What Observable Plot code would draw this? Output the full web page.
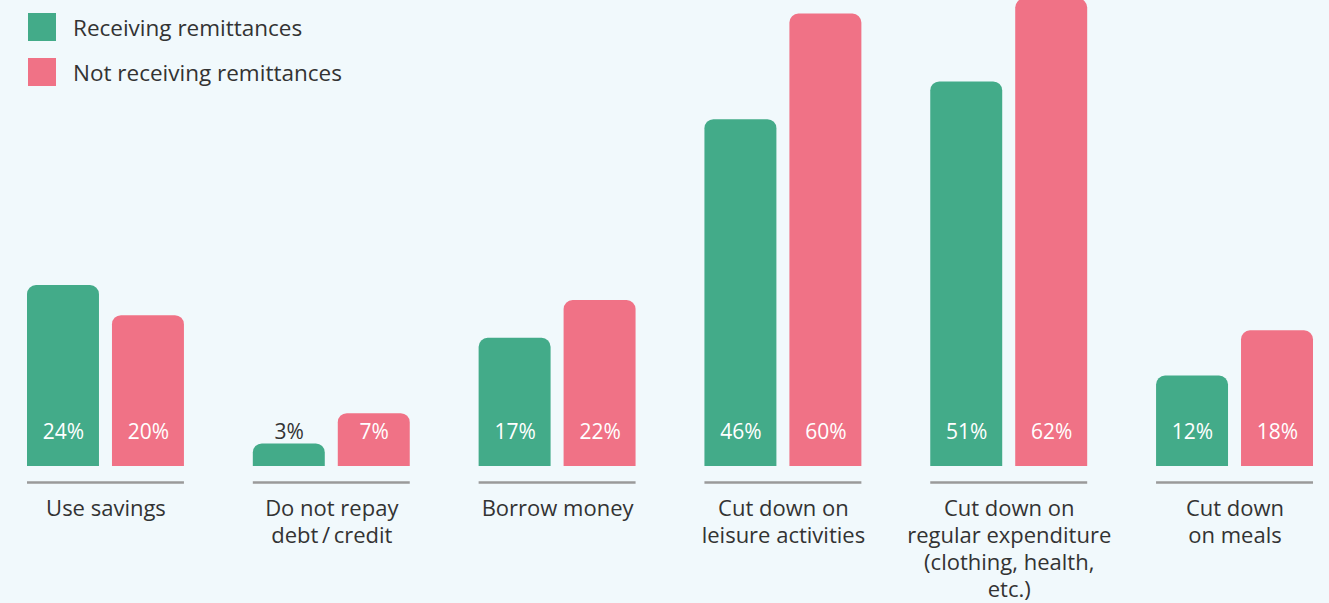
<!DOCTYPE html>
<html><head><meta charset="utf-8">
<script src="https://cdn.jsdelivr.net/npm/d3@7"></script>
<script src="https://cdn.jsdelivr.net/npm/@observablehq/plot@0.6"></script>
<style>
body{margin:0;background:#f1f9fc;font-family:"Open Sans",sans-serif;}
#wrap{position:relative;width:1329px;height:603px;}
#legend{position:absolute;left:28px;top:13px;}
.item{display:flex;align-items:center;height:28px;margin-bottom:17px;font-size:22.5px;color:#333}
.sw{width:28px;height:28px;margin-right:17px}
</style></head><body>
<div id="wrap"><div id="legend"></div></div>
<script>
const categories = [
  "Use savings",
  "Do not repay\ndebt\u2009/\u2009credit",
  "Borrow money",
  "Cut down on\nleisure activities",
  "Cut down on\nregular expenditure\n(clothing, health,\netc.)",
  "Cut down\non meals"
];
const series = ["Receiving remittances", "Not receiving remittances"];
const receiving = [24, 3, 17, 46, 51, 12];
const notReceiving = [20, 7, 22, 60, 62, 18];
const colors = ["#43ab89", "#f07286"];

const data = categories.flatMap((c, i) => [
  {category: c, series: series[0], value: receiving[i]},
  {category: c, series: series[1], value: notReceiving[i]}
]);

const legend = document.getElementById("legend");
series.forEach((s, i) => {
  const it = document.createElement("div");
  it.className = "item";
  it.innerHTML = `<div class="sw" style="background:${colors[i]}"></div><span>${s}</span>`;
  legend.appendChild(it);
});

const chart = Plot.plot({
  width: 1329,
  height: 603,
  marginTop: 0,
  marginBottom: 137,
  marginLeft: 27,
  marginRight: 16,
  style: {fontFamily: "Open Sans, sans-serif", background: "transparent", overflow: "visible"},
  fx: {domain: categories, paddingInner: 0.305, paddingOuter: 0, round: false, axis: null, label: null},
  x: {domain: series, paddingInner: 0.153, paddingOuter: 0, round: false, axis: null},
  y: {domain: [0, 61.8], axis: null},
  color: {domain: series, range: colors},
  marks: [
    Plot.barY(data, {fx: "category", x: "series", y: "value", fill: "series", ry1: 9}),
    Plot.text(data.filter(d => d.value >= 5), {fx: "category", x: "series", frameAnchor: "bottom", dy: -28, text: d => d.value + "%", fill: "white", fontSize: 21}),
    Plot.text(data.filter(d => d.value < 5), {fx: "category", x: "series", frameAnchor: "bottom", dy: -28, text: d => d.value + "%", fill: "#333", fontSize: 21}),
    Plot.ruleY([0], {dy: 16, stroke: "#9a9a9a", strokeWidth: 2.5}),
    Plot.text(categories, {fx: d => d, text: d => d, frameAnchor: "bottom", dy: 30, lineAnchor: "top", fontSize: 22, lineHeight: 1.23, fill: "#333"})
  ]
});
chart.style.position = "absolute";
chart.style.left = "0";
chart.style.top = "0";
document.getElementById("wrap").insertBefore(chart, legend);
</script>
</body></html>
